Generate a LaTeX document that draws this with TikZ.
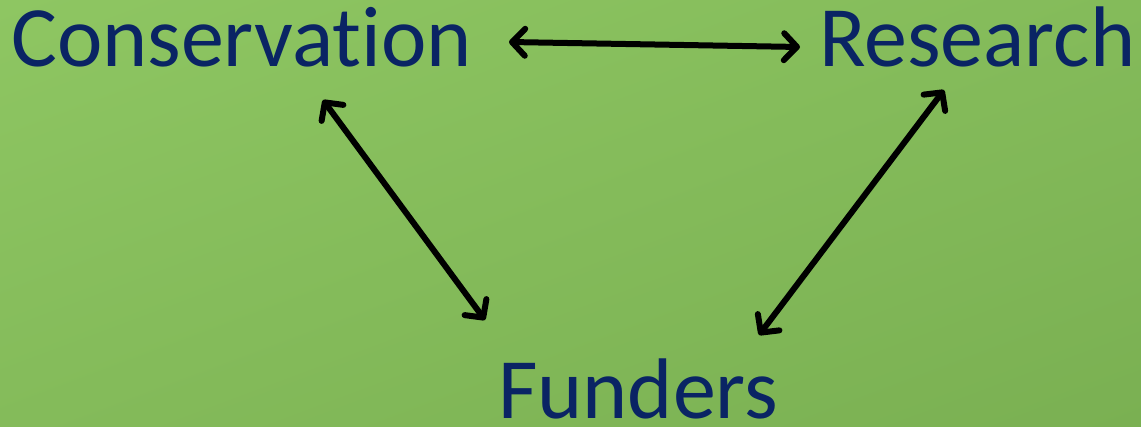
\documentclass[tikz,border=0pt]{standalone}
\usepackage{fontspec}
\setmainfont[Ligatures=NoCommon]{Carlito}
\usepackage{xcolor}
\usepackage{tikz}
\usetikzlibrary{positioning,calc,arrows.meta,shadings}

\definecolor{bgTL}{RGB}{142,198,98}
\definecolor{bgBR}{RGB}{122,176,82}
\definecolor{bgMid}{RGB}{132,187,90}
\definecolor{navy}{RGB}{10,36,100}

\tikzset{
    word/.style={inner sep=0pt, anchor=base west, text=navy, font=\fontsize{86}{86}\selectfont},
    link/.style={line width=6pt, line cap=round, {Straight Barb[length=13pt,width=27pt,round]}-{Straight Barb[length=13pt,width=27pt,round]}},
}

\begin{document}
\begin{tikzpicture}[x=1pt,y=-1pt]
        \useasboundingbox (0,0) rectangle (1141,427);
        \shade[upper left=bgTL, lower right=bgBR, upper right=bgMid, lower left=bgMid] (0,0) rectangle (1141,427);

        \node[word] (cons) at (11,67) {Conservation};
        \node[word] (res) at (819,67) {Research};
        \node[word] (fund) at (498,419) {Funders};

        % arrow ends
        \coordinate (cr) at (509,42);
        \coordinate (rc) at (800,47);
        \coordinate (cf) at (323,100);
        \coordinate (fc) at (485,320);
        \coordinate (rf) at (944,90);
        \coordinate (fr) at (759,335);

        \draw[link] (cr) -- (rc);
        \draw[link] (cf) -- (fc);
        \draw[link] (rf) -- (fr);
    \end{tikzpicture}
\end{document}
